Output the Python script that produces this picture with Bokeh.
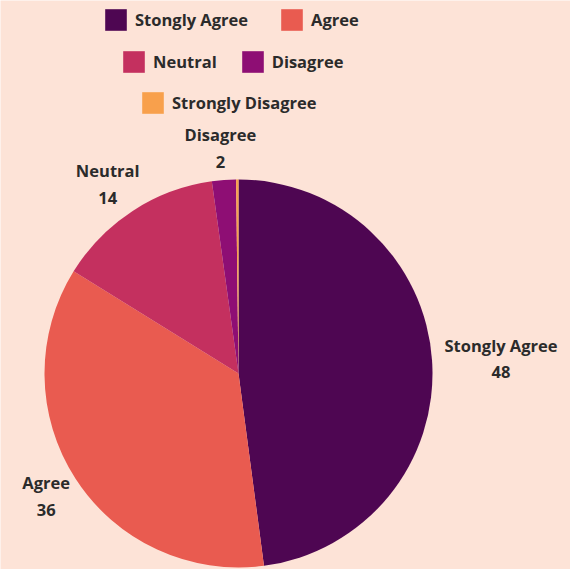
import math
from bokeh.plotting import figure
from bokeh.models import ColumnDataSource, Legend, LegendItem
from bokeh.core.properties import value
from bokeh.embed import file_html
from bokeh.resources import INLINE

categories = ["Stongly Agree", "Agree", "Neutral", "Disagree", "Strongly Disagree"]
values = [48, 36, 14, 2, 0.2]
show_label = [True, True, True, True, False]
colors = ["#4E0652", "#E95B50", "#C4305F", "#8E0E74", "#F8A04C"]
BG = "#FDE3D7"
FONT = "Open Sans"
TXT = "#2B2B2B"

W, H = 570, 569
p = figure(width=W, height=H, x_range=(0, W), y_range=(0, H),
           output_backend="svg", toolbar_location=None, min_border=0,
           outline_line_color=None)
p.axis.visible = False
p.grid.visible = False
p.background_fill_color = BG
p.border_fill_color = BG

cx, cy, R = 238, 196, 194
total = sum(values)
starts, ends, mids = [], [], []
cum = 0.0
for v in values:
    a0 = cum / total * 2 * math.pi
    cum += v
    a1 = cum / total * 2 * math.pi
    # clockwise from 12 o'clock
    starts.append(math.pi / 2 - a1)
    ends.append(math.pi / 2 - a0)
    mids.append((a0 + a1) / 2)

src = ColumnDataSource(dict(cat=categories, val=values, start=starts, end=ends, color=colors,
                            x=[cx] * len(values), y=[cy] * len(values)))
r = p.wedge(x="x", y="y", radius=R, start_angle="start", end_angle="end",
            fill_color="color", line_color=None, source=src)

# labels
lx, ly, names, vals = [], [], [], []
pad = 8
hh = 24
char_w = 5.4
for cat, v, m, s in zip(categories, values, mids, show_label):
    if not s:
        continue
    dx, dy = math.sin(m), math.cos(m)
    hw = len(cat) * char_w if dx < -0.3 else len(cat) * 4.7
    lx.append(cx + dx * (R + pad) + dx * hw)
    ly.append(cy + dy * (R + pad) + dy * hh)
    names.append(cat)
    vals.append(str(v))
lsrc = ColumnDataSource(dict(x=lx, y=ly, name=names, val=vals))
p.text(x="x", y="y", text="name", source=lsrc, text_align="center", text_baseline="middle",
       y_offset=-13.5, text_font=value(FONT), text_font_style="bold", text_font_size="16.5px",
       text_color=TXT)
p.text(x="x", y="y", text="val", source=lsrc, text_align="center", text_baseline="middle",
       y_offset=13.5, text_font=value(FONT), text_font_style="bold", text_font_size="16.5px",
       text_color=TXT)

rows = [([0, 1], (102, 536), 30), ([2, 3], (120, 494), 22), ([4], (139, 453), 20)]
for idxs, loc, sp in rows:
    items = [LegendItem(label=categories[i], renderers=[r], index=i) for i in idxs]
    lg = Legend(items=items, orientation="horizontal", location=loc,
                glyph_width=27, glyph_height=27, label_height=27,
                label_standoff=6, spacing=sp, padding=0, margin=0,
                border_line_color=None, background_fill_alpha=0,
                label_text_font=FONT, label_text_font_style="bold",
                label_text_font_size="16.5px", label_text_color=TXT)
    p.add_layout(lg, "center")

open("out.html", "w").write(file_html(p, INLINE))
